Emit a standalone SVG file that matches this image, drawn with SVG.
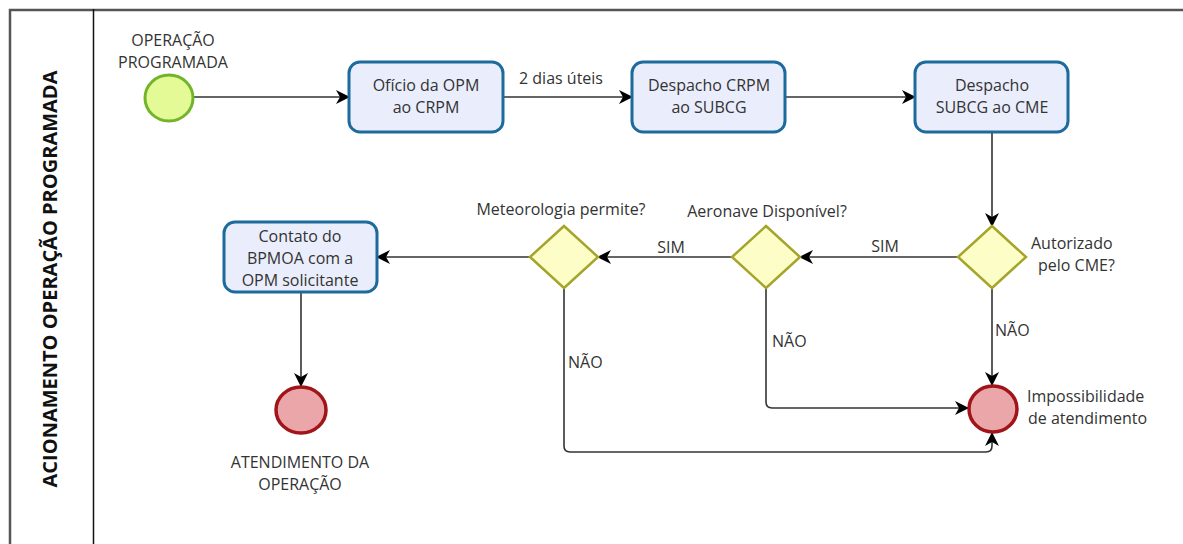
<svg xmlns="http://www.w3.org/2000/svg" width="1183" height="544" viewBox="0 0 1183 544">
<defs>
<style>
.t{font-family:"Open Sans","DejaVu Sans",sans-serif;font-size:16px;fill:#333;text-anchor:middle}
.ts{font-family:"Open Sans","DejaVu Sans",sans-serif;font-size:16px;fill:#333}
.task{fill:#eaedfb;stroke:#1c6b9c;stroke-width:3}
.gw{fill:#fdfdc8;stroke:#a5a52a;stroke-width:2.5}
.end{fill:#eba6aa;stroke:#a0151a;stroke-width:3.5}
.st{fill:#e3fa96;stroke:#73b52a;stroke-width:3}
.c{fill:none;stroke:#333;stroke-width:1.6}
</style>
<marker id="a" viewBox="0 0 14 14" refX="13" refY="7" markerWidth="14" markerHeight="14" markerUnits="userSpaceOnUse" orient="auto">
<path d="M0,0 L14,7 L0,14 L4,7 z" fill="#000"/>
</marker>
</defs>
<rect width="1183" height="544" fill="#fff"/>
<g id="lane">
<path d="M10,548 V10 H1190" fill="none" stroke="#555" stroke-width="2.5"/>
<line x1="93.5" y1="9" x2="93.5" y2="548" stroke="#111" stroke-width="1.5"/>
<text transform="translate(57,279) rotate(-90)" font-family="'Open Sans','DejaVu Sans',sans-serif" font-size="20" font-weight="bold" fill="#111" text-anchor="middle">ACIONAMENTO OPERAÇÃO PROGRAMADA</text>
</g>
<g id="connectors">
<line class="c" x1="193" y1="97" x2="349" y2="97" marker-end="url(#a)"/>
<line class="c" x1="503" y1="97" x2="632" y2="97" marker-end="url(#a)"/>
<text class="t" x="561" y="84">2 dias úteis</text>
<line class="c" x1="785" y1="97" x2="915" y2="97" marker-end="url(#a)"/>
<line class="c" x1="992" y1="132" x2="992" y2="226" marker-end="url(#a)"/>
<line class="c" x1="958" y1="257" x2="800" y2="257" marker-end="url(#a)"/>
<text class="t" x="885" y="252">SIM</text>
<line class="c" x1="733" y1="257" x2="598" y2="257" marker-end="url(#a)"/>
<text class="t" x="671" y="253">SIM</text>
<line class="c" x1="530" y1="257" x2="377" y2="257" marker-end="url(#a)"/>
<line class="c" x1="301" y1="292" x2="301" y2="386" marker-end="url(#a)"/>
<line class="c" x1="992" y1="288" x2="992" y2="385" marker-end="url(#a)"/>
<text class="ts" x="995" y="336">NÃO</text>
<path class="c" d="M766,288 V402 Q766,408 772,408 H968" marker-end="url(#a)"/>
<text class="ts" x="772" y="347">NÃO</text>
<path class="c" d="M564,288 V446 Q564,452 570,452 H986 Q992,452 992,446 V433" marker-end="url(#a)"/>
<text class="ts" x="568" y="368">NÃO</text>
</g>
<g id="start">
<ellipse class="st" cx="169" cy="98" rx="24" ry="23"/>
<text class="t" x="173" y="46">OPERAÇÃO</text>
<text class="t" x="173" y="68">PROGRAMADA</text>
</g>
<g id="task1">
<rect class="task" x="349" y="62" width="154" height="70" rx="11"/>
<text class="t" x="426" y="91">Ofício da OPM</text>
<text class="t" x="426" y="113">ao CRPM</text>
</g>
<g id="task2">
<rect class="task" x="632" y="62" width="153" height="70" rx="11"/>
<text class="t" x="709" y="91">Despacho CRPM</text>
<text class="t" x="709" y="113">ao SUBCG</text>
</g>
<g id="task3">
<rect class="task" x="915" y="62" width="153" height="70" rx="11"/>
<text class="t" x="992" y="91">Despacho</text>
<text class="t" x="992" y="113">SUBCG ao CME</text>
</g>
<g id="gw-autorizado">
<path class="gw" d="M992,226 L1026,257 L992,288 L958,257 z"/>
<text class="ts" x="1031" y="249">Autorizado</text>
<text class="ts" x="1038" y="271">pelo CME?</text>
</g>
<g id="gw-aeronave">
<path class="gw" d="M766,226 L800,257 L766,288 L732,257 z"/>
<text class="t" x="767" y="217">Aeronave Disponível?</text>
</g>
<g id="gw-meteorologia">
<path class="gw" d="M564,226 L598,257 L564,288 L530,257 z"/>
<text class="t" x="561" y="215">Meteorologia permite?</text>
</g>
<g id="task4">
<rect class="task" x="224" y="222" width="153" height="70" rx="11"/>
<text class="t" x="300" y="242">Contato do</text>
<text class="t" x="300" y="264">BPMOA com a</text>
<text class="t" x="300" y="286">OPM solicitante</text>
</g>
<g id="end-atendimento">
<ellipse class="end" cx="301" cy="410" rx="25" ry="23"/>
<text class="t" x="300" y="468">ATENDIMENTO DA</text>
<text class="t" x="300" y="490">OPERAÇÃO</text>
</g>
<g id="end-impossibilidade">
<ellipse class="end" cx="993" cy="409" rx="24" ry="23"/>
<text class="ts" x="1027" y="402">Impossibilidade</text>
<text class="ts" x="1028" y="424">de atendimento</text>
</g>
</svg>
